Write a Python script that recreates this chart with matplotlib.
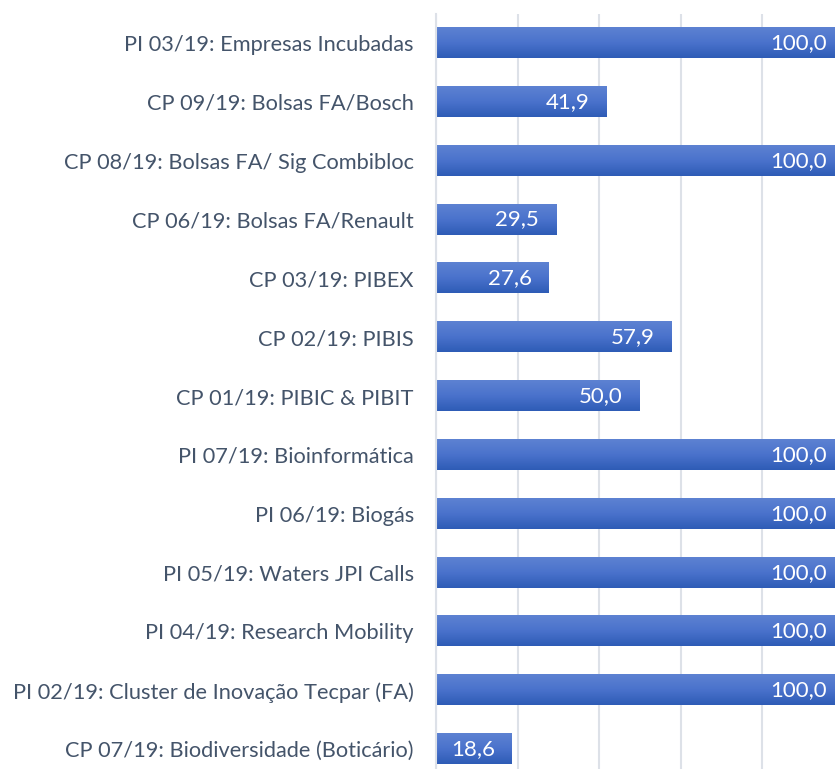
import matplotlib
matplotlib.use("Agg")
import matplotlib.pyplot as plt
import numpy as np
from matplotlib.colors import LinearSegmentedColormap

# categorias de cima para baixo, como no grafico original
categorias = [
    "PI 03/19: Empresas Incubadas",
    "CP 09/19: Bolsas FA/Bosch",
    "CP 08/19: Bolsas FA/ Sig Combibloc",
    "CP 06/19: Bolsas FA/Renault",
    "CP 03/19: PIBEX",
    "CP 02/19: PIBIS",
    "CP 01/19: PIBIC & PIBIT",
    "PI 07/19: Bioinformática",
    "PI 06/19: Biogás",
    "PI 05/19: Waters JPI Calls",
    "PI 04/19: Research Mobility",
    "PI 02/19: Cluster de Inovação Tecpar (FA)",
    "CP 07/19: Biodiversidade (Boticário)",
]
valores = [100.0, 41.9, 100.0, 29.5, 27.6, 57.9, 50.0, 100.0, 100.0, 100.0, 100.0, 100.0, 18.6]

TEXT_COLOR = "#44546a"
GRID_COLOR = "#dde1e8"
FONT = ["Lato", "DejaVu Sans"]

plt.rcParams["font.family"] = FONT

fig = plt.figure(figsize=(8.35, 7.69), dpi=100)
# eixo passa um pouco da borda direita e de baixo, igual ao recorte original
ax = fig.add_axes([0.5222, -0.0124, 0.488, 0.9947])

n = len(categorias)
y_pos = np.arange(n)
bar_h = 0.51

gradiente = LinearSegmentedColormap.from_list("azul", ["#2e5cb6", "#4a72cc", "#5d82d2"])
grad = np.linspace(0, 1, 64).reshape(-1, 1)

for y, v in zip(y_pos, valores):
    ax.imshow(
        grad,
        cmap=gradiente,
        extent=[0, v, y + bar_h / 2, y - bar_h / 2],
        aspect="auto",
        origin="lower",
        zorder=2,
    )
    ax.annotate(
        f"{v:.1f}".replace(".", ","),
        xy=(v, y),
        xytext=(-17, 0),
        textcoords="offset pixels",
        ha="right",
        va="center",
        color="white",
        fontsize=16,
        zorder=3,
        annotation_clip=False,
    )

ax.set_xlim(0, 100)
ax.set_ylim(n - 0.5, -0.5)
ax.set_xticks([0, 20, 40, 60, 80, 100])
ax.xaxis.grid(True, color=GRID_COLOR, linewidth=1.5, zorder=0)
ax.set_axisbelow(True)
ax.tick_params(axis="x", length=0, labelbottom=False)

ax.set_yticks(y_pos)
ax.set_yticklabels(categorias, fontsize=15.7, color=TEXT_COLOR)
ax.tick_params(axis="y", length=0, pad=16)

for lado in ["top", "right", "bottom"]:
    ax.spines[lado].set_visible(False)
ax.spines["left"].set_color(GRID_COLOR)
ax.spines["left"].set_linewidth(1.5)

fig.savefig("out.png", dpi=100)
